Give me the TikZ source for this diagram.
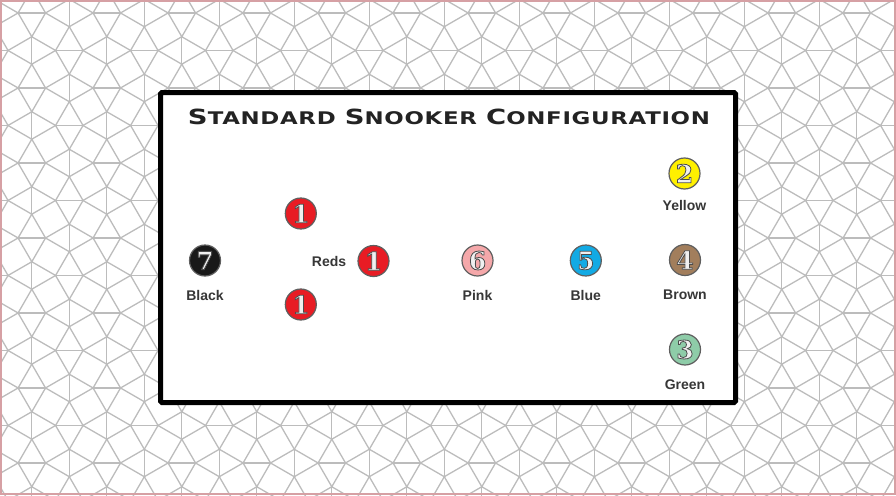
\documentclass[tikz,border=0pt]{standalone}
\usepackage{fontspec}
\usepackage{xcolor}
\usetikzlibrary{calc}
\newfontfamily\titlefont[LetterSpace=3]{DejaVu Sans}
\newfontfamily\labelfont{Liberation Sans}
\newfontfamily\digitfont{DejaVu Serif}
\definecolor{tilegray}{RGB}{188,188,188}
\definecolor{framepink}{RGB}{214,160,164}
\definecolor{titlegray}{RGB}{35,35,35}
\definecolor{lblgray}{RGB}{55,55,55}
\definecolor{ballrim}{RGB}{95,95,95}
\definecolor{digitfill}{RGB}{240,240,240}
\definecolor{snred}{RGB}{232,28,36}
\definecolor{snblack}{RGB}{25,25,25}
\definecolor{snpink}{RGB}{245,168,170}
\definecolor{snblue}{RGB}{18,170,228}
\definecolor{snyellow}{RGB}{255,240,0}
\definecolor{snbrown}{RGB}{162,126,92}
\definecolor{sngreen}{RGB}{142,204,168}
\tikzset{
  tile/.style={draw=tilegray, line width=1.3pt, line join=round},
  frame/.style={draw=framepink, line width=2pt},
  panel/.style={draw=black, fill=white, line width=5pt, rounded corners=1.5pt},
  ball/.style={circle, draw=ballrim, line width=1.2pt, minimum size=31pt,
    inner sep=0pt, fill=#1},
  digit/.style={inner sep=0pt, font=\digitfont\bfseries\fontsize{25}{25}\selectfont, text=digitfill},
  label text/.style={inner sep=0pt, anchor=base, text=lblgray,
    font=\labelfont\bfseries\fontsize{14}{14}\selectfont},
  title text/.style={inner sep=0pt, anchor=base, text=titlegray, font=\titlefont\bfseries}
}
% big letter + small capitals
\newcommand\bigsc[2]{{\fontsize{21}{21}\selectfont #1}{\fontsize{17.5}{17.5}\selectfont #2}}
% light digit with a dark outline (fill + stroke text mode)
\newcommand\rimmed[1]{\special{pdf:literal direct 2 Tr 0.8 w 0.3 0.3 0.3 RG}#1\special{pdf:literal direct 0 Tr}}
% name, position, colour, number
\newcommand\snball[4]{%
  \node[ball=#3] (#1) at (#2) {\rimmed{#4}};
}
\begin{document}
\begin{tikzpicture}[x=1pt, y=-1pt]
    \useasboundingbox (0,0) rectangle (896,495);
    % snub square tiling in the background
    \begin{scope}
        \clip (0,0) rectangle (896,495);
        \foreach \m in {0,...,13}
            \foreach \n in {0,...,8}
                \foreach \ox/\oy in {50.55/31.72, 13.05/69.22}
                {
                    \pgfmathsetmacro\px{\ox+75*\m-75}
                    \pgfmathsetmacro\py{\oy+75*\n-75}
                    \begin{scope}[shift={(\px,\py)}, scale=27.45]
                        \draw[tile] (0.683,-0.183) -- (-0.183,-0.683) -- (-0.683,0.183) -- (0.183,0.683) -- cycle;
                        \draw[tile] (-0.183,-0.683) -- (-0.683,-1.549) -- (0.183,-2.049) -- (0.683,-1.183) -- cycle;
                        \draw[tile] (0.683,-0.183) -- (0.683,-1.183) (-0.183,-0.683) -- (-1.183,-0.683);
                    \end{scope}
                }
    \end{scope}
    \draw[frame] (1,1) rectangle (895,494);

    \draw[panel] (160.5,92.5) rectangle (735.5,402.5);
    \node[title text] (title) at (449,124)
        {\resizebox{522pt}{15.5pt}{\bigsc{S}{TANDARD}\hspace{0.7em}\bigsc{S}{NOOKER}\hspace{0.7em}\bigsc{C}{ONFIGURATION}}};

    % balls
    \begin{scope}[every node/.append style={digit}]
        \snball{black}{205,260.5}{snblack}{7}
        \snball{redtop}{300.8,213.5}{snred}{1}
        \snball{redmid}{373.5,261}{snred}{1}
        \snball{redbot}{300.8,304.5}{snred}{1}
        \snball{pink}{477.5,260.5}{snpink}{6}
        \snball{blue}{585.8,260.5}{snblue}{5}
        \snball{yellow}{684.5,173.5}{snyellow}{2}
        \snball{brown}{685,260}{snbrown}{4}
        \snball{green}{685,349.5}{sngreen}{3}
    \end{scope}

    % names
    \node[label text] (lblack) at ($(black)+(0,39.5)$) {Black};
    \node[label text, anchor=east] (lreds) at ($(redmid.west)+(-11,0)$) {Reds};
    \node[label text] (lpink) at ($(pink)+(0,39.5)$) {Pink};
    \node[label text] (lblue) at ($(blue)+(0,39.5)$) {Blue};
    \node[label text] (lyellow) at ($(yellow)+(0,37)$) {Yellow};
    \node[label text] (lbrown) at ($(brown)+(0,39.5)$) {Brown};
    \node[label text] (lgreen) at ($(green)+(0,39.5)$) {Green};
\end{tikzpicture}
\end{document}
